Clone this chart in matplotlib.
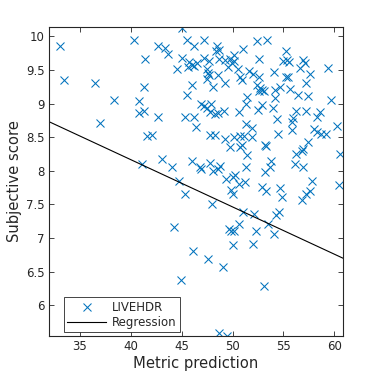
import matplotlib
matplotlib.use("Agg")
import matplotlib.pyplot as plt
import numpy as np

# Metric prediction (x) and subjective score (y) for LIVEHDR images
metric_pred = [
    33.10, 33.43, 36.45, 38.41, 40.34, 41.42, 41.32, 40.83, 40.80, 41.32,
    37.00, 42.64, 42.67, 41.62, 42.11, 41.16, 43.36, 43.70, 45.00, 45.49,
    46.24, 45.00, 44.57, 45.74, 45.98, 45.65, 46.21, 46.47, 46.06, 45.49,
    45.32, 46.18, 46.45, 43.11, 44.09, 44.78, 45.35, 46.06, 44.27, 46.14,
    44.96, 46.80, 46.92, 47.22, 48.50, 48.66, 48.42, 51.05, 50.19, 47.22,
    47.68, 48.64, 49.30, 49.75, 50.19, 49.99, 49.55, 50.58, 47.48, 47.58,
    47.71, 47.46, 48.62, 48.10, 49.28, 50.78, 50.90, 51.64, 51.98, 51.39,
    52.43, 53.41, 55.28, 52.63, 54.99, 55.32, 55.55, 56.92, 57.12, 56.58,
    59.41, 52.63, 54.10, 55.25, 55.48, 57.64, 57.17, 52.40, 52.74, 52.89,
    53.14, 52.65, 54.22, 54.71, 55.69, 56.48, 57.44, 54.20, 59.70, 46.89,
    47.19, 47.88, 47.46, 47.83, 48.27, 48.60, 49.14, 50.66, 51.37, 51.32,
    51.94, 47.78, 48.27, 49.30, 49.80, 50.14, 50.73, 51.17, 51.91, 50.97,
    50.78, 51.45, 51.37, 47.78, 48.07, 48.60, 48.76, 49.38, 50.21, 50.07,
    50.68, 51.27, 49.84, 50.04, 48.03, 51.00, 52.13, 50.66, 49.62, 49.87,
    50.16, 52.34, 52.06, 50.00, 52.55, 52.87, 53.94, 56.23, 57.25, 58.59,
    58.27, 54.34, 55.97, 55.81, 55.81, 60.29, 58.05, 58.25, 58.69, 59.21,
    54.49, 53.22, 53.26, 57.44, 56.95, 56.82, 56.19, 60.59, 53.81, 53.73,
    56.17, 56.95, 53.19, 57.78, 52.94, 53.32, 54.70, 54.90, 57.17, 57.64,
    56.78, 60.49, 54.59, 54.30, 53.51, 54.08, 53.12, 47.63, 49.09, 48.69,
    49.48,
]
subjective = [
    9.86, 9.35, 9.31, 9.06, 9.94, 9.66, 9.25, 9.04, 8.86, 8.89,
    8.71, 9.86, 8.80, 8.52, 8.53, 8.10, 9.83, 9.74, 10.13, 9.94,
    9.86, 9.68, 9.52, 9.62, 9.58, 9.55, 9.56, 9.61, 9.28, 9.13,
    8.80, 8.80, 8.65, 8.17, 8.05, 7.85, 7.65, 8.14, 7.16, 6.81,
    6.38, 8.05, 8.03, 9.94, 9.85, 9.80, 9.79, 9.81, 9.73, 9.68,
    9.64, 9.66, 9.65, 9.66, 9.63, 9.60, 9.55, 9.51, 9.52, 9.45,
    9.42, 9.37, 9.42, 9.24, 9.30, 9.39, 9.35, 9.48, 9.44, 9.10,
    9.93, 9.94, 9.79, 9.66, 9.63, 9.65, 9.62, 9.65, 9.61, 9.53,
    9.53, 9.40, 9.47, 9.39, 9.39, 9.44, 9.31, 9.28, 9.23, 9.20,
    9.19, 9.18, 9.20, 9.25, 9.22, 9.13, 9.11, 9.09, 9.06, 8.99,
    8.97, 9.00, 8.93, 8.88, 8.84, 8.86, 8.89, 8.87, 8.99, 8.69,
    8.64, 8.53, 8.53, 8.48, 8.36, 8.50, 8.52, 8.51, 8.50, 8.39,
    8.36, 8.23, 8.05, 8.11, 7.99, 8.03, 8.07, 7.88, 7.94, 7.90,
    7.81, 7.83, 7.71, 7.66, 7.51, 7.39, 7.35, 7.20, 7.14, 7.10,
    7.10, 7.10, 6.91, 6.90, 8.90, 8.98, 8.93, 8.89, 8.89, 8.87,
    8.80, 8.77, 8.78, 8.72, 8.61, 8.67, 8.62, 8.57, 8.55, 8.55,
    8.54, 8.39, 8.37, 8.43, 8.33, 8.29, 8.25, 8.25, 8.15, 8.05,
    8.10, 8.06, 7.98, 7.85, 7.76, 7.70, 7.74, 7.61, 7.66, 7.70,
    7.57, 7.79, 7.38, 7.34, 7.20, 7.06, 6.29, 6.68, 6.57, 5.59,
    5.54,
]

# Regression line coefficients (as drawn in the reference)
reg_slope = -0.0704
reg_intercept = 10.982

x_ticks = [35, 40, 45, 50, 55, 60]
y_ticks = [6, 6.5, 7, 7.5, 8, 8.5, 9, 9.5, 10]
y_ticklabels = ["6", "6.5", "7", "7.5", "8", "8.5", "9", "9.5", "10"]
x_limits = (31.98, 60.82)
y_limits = (5.54, 10.14)

dark = (0.15, 0.15, 0.15)
blue = "#0072BD"

fig = plt.figure(figsize=(3.78, 3.78), dpi=100)
ax = fig.add_axes([0.1296, 0.1111, 0.777, 0.8175])

ax.plot(metric_pred, subjective, linestyle="none", marker="x", color=blue,
        markersize=5.4, markeredgewidth=0.75, label="LIVEHDR")
xr = np.array(x_limits)
ax.plot(xr, reg_slope * xr + reg_intercept, color="black", linewidth=0.8,
        label="Regression")

ax.set_xlim(*x_limits)
ax.set_ylim(*y_limits)
ax.set_xticks(x_ticks)
ax.set_yticks(y_ticks)
ax.set_yticklabels(y_ticklabels)
ax.tick_params(direction="in", length=3.5, width=0.6, top=True, right=True,
               labelsize=8.5, colors=dark, pad=3)
for sp in ax.spines.values():
    sp.set_color(dark)
    sp.set_linewidth(0.8)

ax.set_xlabel("Metric prediction", fontsize=10.6, color=dark, labelpad=2)
ax.set_ylabel("Subjective score", fontsize=10.6, color=dark, labelpad=3)

leg = ax.legend(loc="lower left", bbox_to_anchor=(0.05, 0.012), fontsize=8.5,
                fancybox=False, framealpha=1, edgecolor=dark,
                handlelength=3.3, borderpad=0.3, labelspacing=0.15,
                handletextpad=0.5, borderaxespad=0)
leg.get_frame().set_linewidth(0.6)
for t in leg.get_texts():
    t.set_color(dark)

fig.savefig("out.png", dpi=100)
